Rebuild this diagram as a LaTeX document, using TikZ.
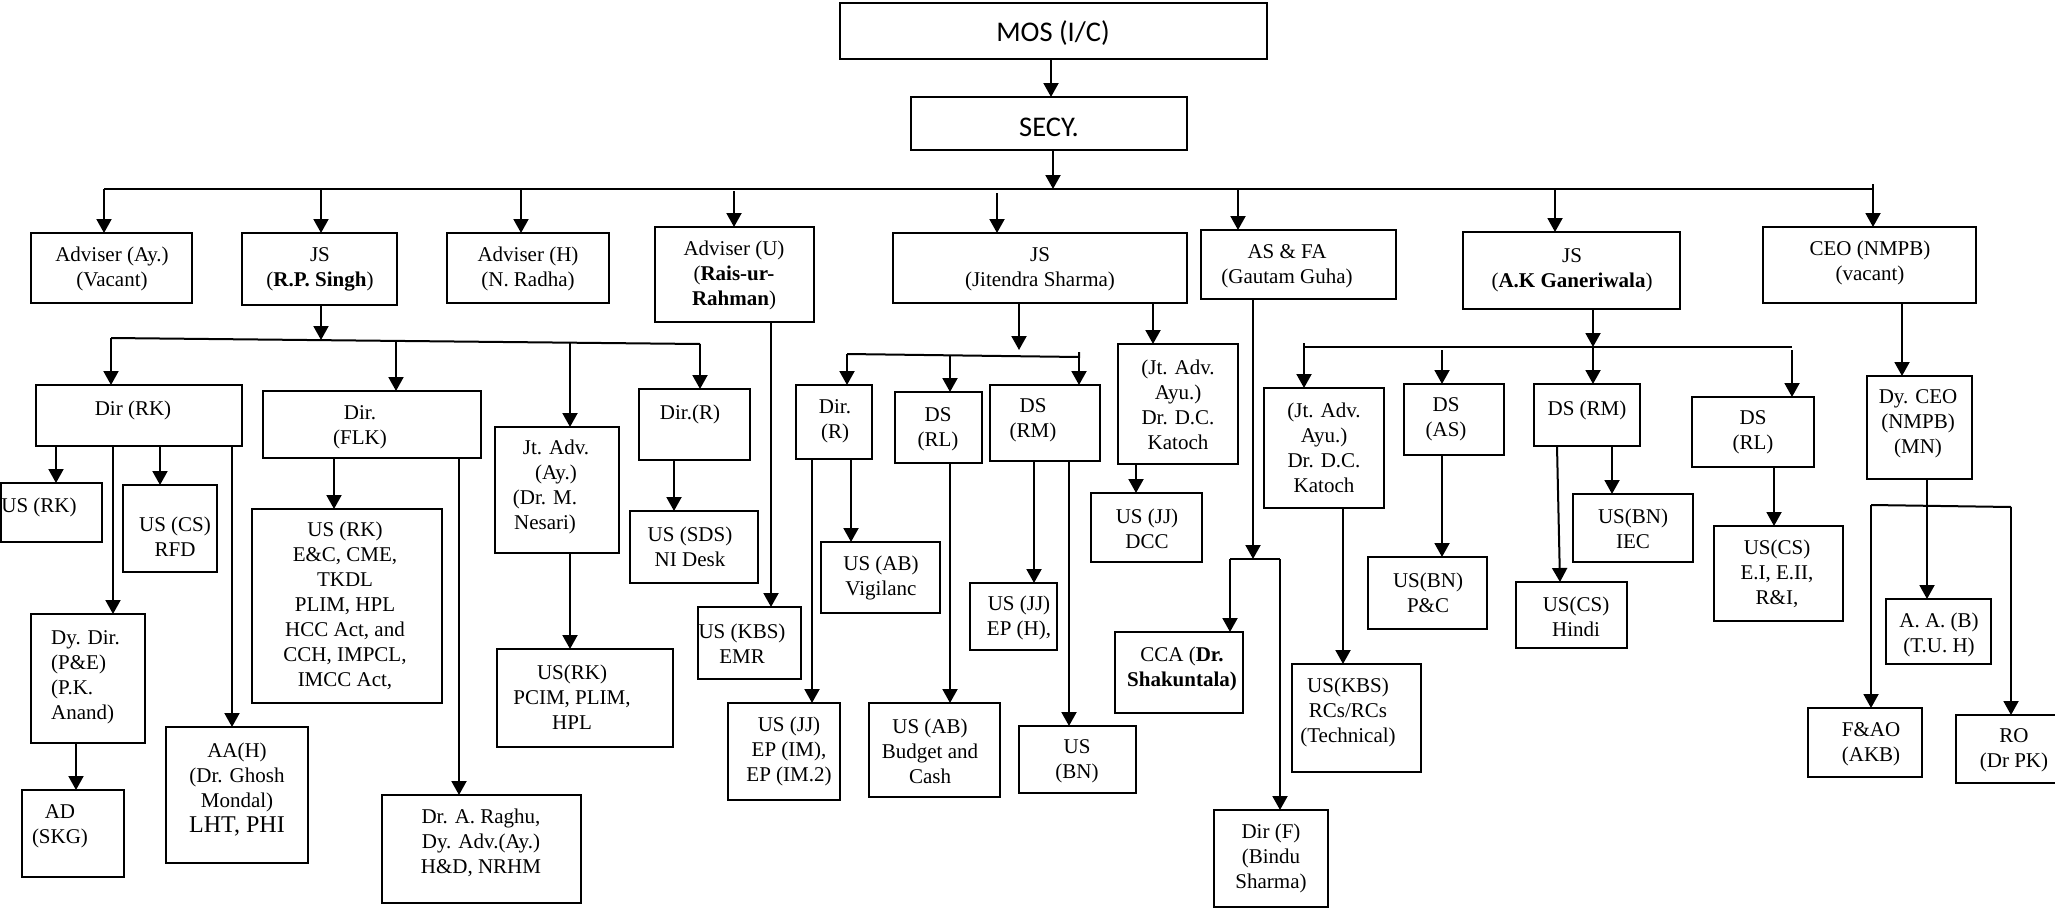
\documentclass[tikz,border=0pt]{standalone}
\usepackage{fontspec}
\setmainfont{Liberation Serif}
\newfontfamily\calfont{Carlito}
\usetikzlibrary{arrows.meta}
\newcommand\bxt[8]{%
  \node[bx, minimum width={(#4)-(#2)}, minimum height={(#5)-(#3)}] (#1) at ({((#2)+(#4))/2},{((#3)+(#5))/2}) {};
  \node[txt] (#1-t) at (#6,#7) {#8};}
\newcommand\link[3]{\draw[arr] (#1,0 |- #2.south) -- (#1,0 |- #3.north);}
\newcommand\busdrop[4]{\coordinate (#1) at (#2,#3); \draw[arr] (#1) -- (#1 |- #4.north);}
\begin{document}
\begin{tikzpicture}[x=1pt,y=-1pt,
  bx/.style={draw, line width=1.7pt, inner sep=0pt, outer sep=0pt},
  txt/.style={align=center, inner sep=0pt, font=\fontsize{21}{25}\selectfont},
  ln/.style={line width=2pt},
  arr/.style={line width=2pt, -{Triangle[width=15pt,length=14pt]}}]
\useasboundingbox (0,0) rectangle (2055,910);

% top
\bxt{mos}{840}{3}{1267}{59}{1053}{33}{\calfont\fontsize{28.5}{34}\selectfont MOS (I/C)}
\bxt{secy}{911}{97}{1187}{150}{1049}{127}{\calfont\fontsize{28.5}{34}\selectfont SECY.}

% level 1
\bxt{advay}{31}{233}{192}{303}{112}{269}{Adviser (Ay.)\\(Vacant)}
\bxt{jsrp}{242}{233}{397}{305}{320}{269}{JS\\(\textbf{R.P. Singh})}
\bxt{advh}{447}{233}{609}{303}{528}{269}{Adviser (H)\\(N. Radha)}
\bxt{advu}{655}{227}{814}{322}{734}{275}{Adviser (U)\\(\textbf{Rais-ur-}\\\textbf{Rahman})}
\bxt{jsj}{893}{233}{1187}{303}{1040}{269}{JS\\(Jitendra Sharma)}
\bxt{asfa}{1201}{230}{1396}{299}{1287}{266}{AS \& FA\\(Gautam Guha)}
\bxt{jsakg}{1463}{232}{1680}{309}{1572}{270}{JS\\(\textbf{A.K Ganeriwala})}
\bxt{ceo}{1763}{227}{1976}{303}{1870}{263}{CEO (NMPB)\\(vacant)}

% R.P. Singh branch
\bxt{dirrk}{36}{385}{242}{446}{133}{410}{Dir (RK)}
\bxt{dirflk}{263}{391}{481}{458}{360}{427}{Dir.\\(FLK)}
\bxt{jtnes}{495}{427}{619}{553}{556}{487}{Jt. Adv.\\(Ay.)\\(Dr. M.\rule{22pt}{0pt}\\Nesari)\rule{22pt}{0pt}}
\bxt{dirr1}{639}{389}{750}{460}{690}{414}{Dir.(R)}
\bxt{ussds}{630}{511}{758}{583}{690}{547}{US (SDS)\\NI Desk}
\bxt{usrk1}{1}{483}{102}{542}{39}{507}{US (RK)}
\bxt{uscs1}{123}{485}{217}{572}{175}{537}{US (CS)\\RFD}
\bxt{usrk2}{252}{509}{442}{703}{345}{606}{US (RK)\\E\&C, CME,\\TKDL\\PLIM, HPL\\HCC Act, and\\CCH, IMPCL,\\IMCC Act,}
\node[bx, minimum width=114, minimum height=129] (dydir) at (88,678.5) {};
\node[txt, align=left, anchor=west] (dydir-t) at (51,677) {Dy. Dir.\\(P\&E)\\(P.K.\\Anand)};
\bxt{ad}{22}{790}{124}{877}{60}{826}{AD\\(SKG)}
\bxt{aah}{166}{727}{308}{863}{237}{790}{AA(H)\\(Dr. Ghosh\\Mondal)\\{\fontsize{24}{27}\selectfont LHT, PHI}}
\bxt{raghu}{382}{795}{581}{903}{481}{843}{Dr. A. Raghu,\\Dy. Adv.(Ay.)\\H\&D, NRHM}
\bxt{usrk3}{497}{649}{673}{747}{572}{697}{US(RK)\\PCIM, PLIM,\\HPL}
\bxt{uskbs1}{698}{607}{801}{679}{742}{644}{US (KBS)\\EMR}

% Jitendra Sharma branch
\bxt{dirr2}{796}{385}{872}{459}{835}{421}{Dir.\\(R)}
\bxt{dsrl1}{895}{392}{982}{463}{938}{429}{DS\\(RL)}
\bxt{dsrm1}{990}{385}{1100}{461}{1033}{420}{DS\\(RM)}
\bxt{kat1}{1118}{344}{1238}{464}{1178}{405}{(Jt. Adv.\\Ayu.)\\Dr. D.C.\\Katoch}
\bxt{usjj1}{1091}{493}{1202}{562}{1147}{529}{US (JJ)\\DCC}
\bxt{usab1}{821}{542}{940}{613}{881}{578}{US (AB)\\Vigilanc}
\bxt{usjj2}{728}{703}{840}{800}{789}{751}{US (JJ)\\EP (IM),\\EP (IM.2)}
\bxt{usab2}{869}{703}{1000}{797}{930}{751}{US (AB)\\Budget and\\Cash}
\bxt{usjj3}{970}{583}{1057}{650}{1019}{618}{US (JJ)\\EP (H),}
\bxt{usbn1}{1019}{726}{1136}{793}{1077}{761}{US\\(BN)}

% AS & FA branch
\bxt{cca}{1115}{632}{1243}{713}{1182}{669}{CCA (\textbf{Dr.}\\\textbf{Shakuntala)}}
\bxt{dirf}{1214}{810}{1328}{907}{1271}{858}{Dir (F)\\(Bindu\\Sharma)}

% A.K Ganeriwala branch
\bxt{kat2}{1264}{388}{1384}{508}{1324}{448}{(Jt. Adv.\\Ayu.)\\Dr. D.C.\\Katoch}
\bxt{dsas}{1404}{384}{1504}{455}{1446}{419}{DS\\(AS)}
\bxt{dsrm2}{1534}{384}{1640}{446}{1587}{410}{DS (RM)}
\bxt{usbn2}{1368}{557}{1487}{629}{1428}{593}{US(BN)\\P\&C}
\bxt{usbn3}{1573}{494}{1693}{562}{1633}{529}{US(BN)\\IEC}
\bxt{uscs2}{1516}{582}{1627}{648}{1576}{617}{US(CS)\\Hindi}
\bxt{uskbs2}{1292}{664}{1421}{772}{1348}{712}{US(KBS)\\RCs/RCs\\(Technical)}
\bxt{dsrl2}{1692}{397}{1814}{467}{1753}{432}{DS\\(RL)}
\bxt{uscs3}{1714}{526}{1843}{621}{1777}{574}{US(CS)\\E.I, E.II,\\R\&I,}

% CEO branch
\bxt{dyceo}{1867}{376}{1972}{479}{1918}{424}{Dy. CEO\\(NMPB)\\(MN)}
\bxt{aab}{1886}{599}{1991}{664}{1939}{635}{A. A. (B)\\(T.U. H)}
\bxt{fao}{1808}{708}{1922}{777}{1871}{744}{F\&AO\\(AKB)}
\bxt{ro}{1956}{715}{2062}{783}{2014}{750}{RO\\(Dr PK)}

% ---------- connectors ----------
\link{1051}{mos}{secy}
\coordinate (mbL) at (104,189); \coordinate (mbR) at (1873,189); \coordinate (mbS) at (1053,189);
\draw[ln] (mbL) -- (mbR) -- ([yshift=5pt]mbR);
\draw[arr] (mbS |- secy.south) -- (mbS);
\busdrop{m1}{104}{189}{advay}
\busdrop{m2}{321}{189}{jsrp}
\busdrop{m3}{521}{189}{advh}
\busdrop{m4}{734}{191}{advu}
\busdrop{m5}{997}{193}{jsj}
\busdrop{m6}{1238}{189}{asfa}
\busdrop{m7}{1555}{189}{jsakg}
\busdrop{m8}{1873}{189}{ceo}

% R.P. Singh
\coordinate (rbL) at (111,338); \coordinate (rbR) at (700,344); \coordinate (rbS) at (321,340);
\draw[ln] (rbL) -- (rbR);
\draw[arr] (rbS |- jsrp.south) -- (rbS);
\busdrop{r1}{111}{338}{dirrk}
\busdrop{r2}{396}{341}{dirflk}
\busdrop{r3}{570}{342.7}{jtnes}
\busdrop{r4}{700}{344}{dirr1}
\link{56}{dirrk}{usrk1}
\link{160}{dirrk}{uscs1}
\link{113}{dirrk}{dydir}
\link{232}{dirrk}{aah}
\link{76}{dydir}{ad}
\link{334}{dirflk}{usrk2}
\link{459}{dirflk}{raghu}
\link{570}{jtnes}{usrk3}
\link{674}{dirr1}{ussds}
\link{771}{advu}{uskbs1}

% Jitendra Sharma
\coordinate (jS) at (1019,350);
\draw[arr] (jS |- jsj.south) -- (jS);
\coordinate (jbL) at (847,354); \coordinate (jbR) at (1079,357);
\draw[ln] (jbL) -- (jbR) -- ([yshift=5pt]jbR);
\busdrop{j1}{847}{354}{dirr2}
\busdrop{j2}{950}{355.5}{dsrl1}
\busdrop{j3}{1079}{357}{dsrm1}
\link{1153}{jsj}{kat1}
\link{1136}{kat1}{usjj1}
\link{851}{dirr2}{usab1}
\link{812}{dirr2}{usjj2}
\link{950}{dsrl1}{usab2}
\link{1034}{dsrm1}{usjj3}
\link{1069}{dsrm1}{usbn1}

% AS & FA
\coordinate (aT) at (1253,559); \coordinate (aL) at (1230,559); \coordinate (aR) at (1280,559);
\draw[ln] (aL) -- (aR);
\draw[arr] (aT |- asfa.south) -- (aT);
\draw[arr] (aL) -- (aL |- cca.north);
\draw[arr] (aR) -- (aR |- dirf.north);

% A.K Ganeriwala
\coordinate (kS) at (1593,347);
\draw[arr] (kS |- jsakg.south) -- (kS);
\coordinate (kbL) at (1304,347); \coordinate (kbR) at (1792,347);
\draw[ln] ([yshift=4pt]kbL) -- (kbL) -- (kbR);
\busdrop{k1}{1304}{347}{kat2}
\busdrop{k2}{1442}{350}{dsas}
\draw[arr] (kS) -- (kS |- dsrm2.north);
\busdrop{k4}{1792}{350}{dsrl2}
\link{1442}{dsas}{usbn2}
\link{1612}{dsrm2}{usbn3}
\draw[arr] (1557,0 |- dsrm2.south) -- (1560,0 |- uscs2.north);
\link{1343}{kat2}{uskbs2}
\link{1774}{dsrl2}{uscs3}

% CEO
\link{1902}{ceo}{dyceo}
\link{1927}{dyceo}{aab}
\coordinate (cL) at (1871,505); \coordinate (cR) at (2011,507);
\draw[ln] (cL) -- (cR);
\draw[arr] (cL) -- (cL |- fao.north);
\draw[arr] (cR) -- (cR |- ro.north);
\end{tikzpicture}
\end{document}
